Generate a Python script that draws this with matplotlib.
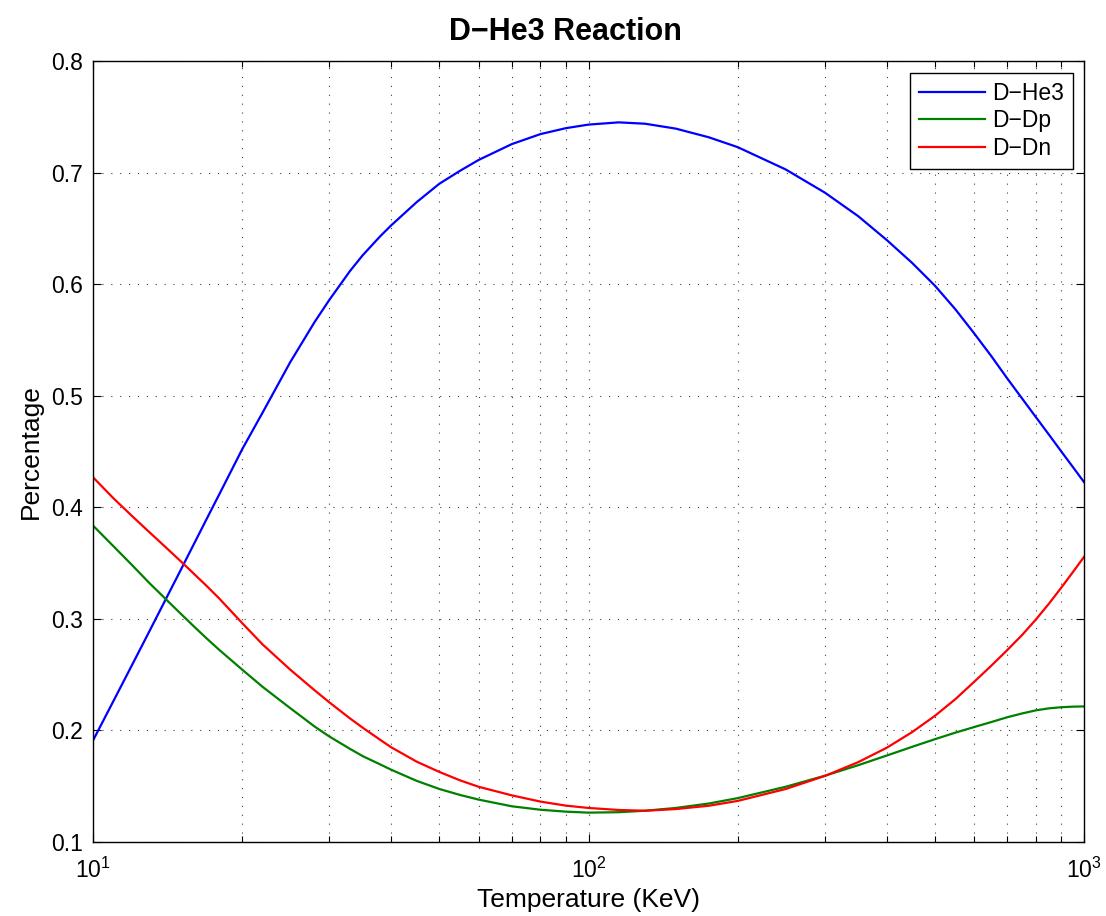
import matplotlib
matplotlib.use("Agg")
import matplotlib.pyplot as plt
from matplotlib.ticker import LogLocator, MultipleLocator, FormatStrFormatter

# 폰트 설정 (MATLAB 느낌의 Helvetica 대용)
plt.rcParams['font.family'] = ['Liberation Sans', 'DejaVu Sans']
plt.rcParams['mathtext.fontset'] = 'custom'
plt.rcParams['mathtext.rm'] = 'Liberation Sans'
plt.rcParams['mathtext.it'] = 'Liberation Sans'
plt.rcParams['mathtext.default'] = 'regular'

# 데이터
temperature = [10, 11, 12, 13, 14, 15, 16, 17, 18, 20, 22, 25, 28, 30, 33,
               35, 38, 40, 45, 50, 55, 60, 70, 80, 90, 100, 115, 130, 150, 175,
               200, 250, 300, 350, 400, 450, 500, 550, 600, 650, 700, 750,
               800, 850, 900, 950, 1000]

d_he3 = [0.191, 0.2265, 0.259, 0.289, 0.317, 0.343, 0.3675, 0.3905, 0.412,
         0.452, 0.485, 0.530, 0.566, 0.586, 0.6117,
         0.6258, 0.643, 0.6528, 0.6735, 0.690, 0.7015, 0.7113,
         0.7255, 0.7345, 0.7398, 0.743,
         0.745, 0.7438, 0.7394, 0.7316, 0.7228,
         0.7028, 0.682, 0.661, 0.6395, 0.619, 0.5987,
         0.5775, 0.556, 0.5355, 0.5155, 0.4975, 0.4807,
         0.465, 0.450, 0.436, 0.4226]

d_dp = [0.3836, 0.365, 0.348, 0.332, 0.318, 0.305, 0.293, 0.282, 0.272,
        0.2545, 0.239, 0.220, 0.2035, 0.1945, 0.1835,
        0.177, 0.1695, 0.1647, 0.1548, 0.1475, 0.1422, 0.138,
        0.132, 0.1289, 0.1272, 0.1263,
        0.1267, 0.128, 0.1305, 0.1345, 0.1393,
        0.1495, 0.1594, 0.1688, 0.1775, 0.1853, 0.1921,
        0.198, 0.203, 0.2075, 0.2118, 0.2152, 0.218,
        0.2198, 0.2208, 0.2213, 0.2215]

d_dn = [0.4269, 0.408, 0.392, 0.3776, 0.3644, 0.352, 0.3402, 0.329, 0.318,
        0.2962, 0.277, 0.2545, 0.236, 0.2251, 0.2108,
        0.2025, 0.1915, 0.1848, 0.1720, 0.1628, 0.1553, 0.1495,
        0.1418, 0.1362, 0.1326, 0.1305,
        0.1287, 0.128, 0.1295, 0.1325, 0.1368,
        0.1475, 0.1592, 0.1715, 0.1845, 0.1985, 0.213,
        0.228, 0.2435, 0.258, 0.272, 0.2855, 0.2995,
        0.3137, 0.328, 0.342, 0.3555]

labels = ['D\u2212He3', 'D\u2212Dp', 'D\u2212Dn']
colors = ['#0000ff', '#008000', '#ff0000']

fig = plt.figure(figsize=(11.06, 9.16), dpi=100)
ax = fig.add_axes([0.0841, 0.0808, 0.896, 0.8526])

ax.plot(temperature, d_he3, color=colors[0], lw=1.6, label=labels[0])
ax.plot(temperature, d_dp, color=colors[1], lw=1.6, label=labels[1])
ax.plot(temperature, d_dn, color=colors[2], lw=1.6, label=labels[2])

ax.set_xscale('log')
ax.set_xlim(10, 1000)
ax.set_ylim(0.1, 0.8)
ax.yaxis.set_major_locator(MultipleLocator(0.1))
ax.yaxis.set_major_formatter(FormatStrFormatter('%.1f'))
ax.xaxis.set_minor_locator(LogLocator(base=10, subs=range(2, 10)))

# 눈금 설정
ax.tick_params(which='both', direction='in', top=True, right=True, labelsize=16.5)
ax.tick_params(which='major', length=6, width=0.8)
ax.tick_params(which='minor', length=4, width=0.8)
ax.tick_params(axis='x', pad=11)
ax.tick_params(axis='y', pad=7)
for s in ax.spines.values():
    s.set_linewidth(1.0)

# 점선 그리드
grid_style = dict(color='0.25', lw=0.8, linestyle=(0, (1, 7)))
ax.grid(True, which='major', **grid_style)
ax.xaxis.grid(True, which='minor', **grid_style)

ax.set_title('D\u2212He3 Reaction', fontsize=22, fontweight='bold', pad=15, x=0.477)
ax.set_xlabel('Temperature (KeV)', fontsize=19, labelpad=4)
ax.set_ylabel('Percentage', fontsize=19, labelpad=6)

leg = ax.legend(loc='upper right', bbox_to_anchor=(0.989, 0.985), borderaxespad=0,
                fontsize=16.5, fancybox=False, framealpha=1, edgecolor='black',
                handlelength=2.9, handletextpad=0.3, labelspacing=0.2,
                borderpad=0.4)
leg.get_frame().set_linewidth(1.0)

fig.savefig('out.png', dpi=100)
